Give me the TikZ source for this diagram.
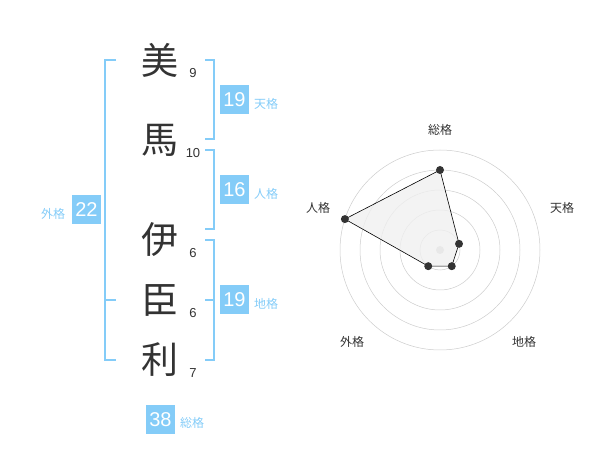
\documentclass[tikz,border=0pt]{standalone}
\usepackage{fontspec}
\setmainfont{Liberation Sans}
\newfontfamily\jp{Noto Sans CJK JP}
\definecolor{sky}{RGB}{132,204,248}
\definecolor{ink}{RGB}{51,51,51}
\begin{document}
\begin{tikzpicture}[x=1pt, y=-1pt,
    kanji/.style = {text=ink, inner sep=0pt, font=\jp\fontsize{37}{37}\selectfont},
    num/.style = {text=ink, inner sep=0pt, font=\fontsize{13}{13}\selectfont},
    score/.style = {fill=sky, text=white, minimum size=29pt, inner sep=0pt, font=\fontsize{20}{20}\selectfont},
    kaku/.style = {text=sky, inner sep=0pt, font=\jp\fontsize{12}{12}\selectfont},
    bracket/.style = {draw=sky, line width=1.6pt},
    ring/.style = {draw=black!20, line width=0.5pt},
    axis/.style = {text=ink, inner sep=0pt, font=\jp\fontsize{12}{12}\selectfont},
    dot/.style = {circle, fill=ink, inner sep=0pt, minimum size=8pt}]
    \useasboundingbox (0,0) rectangle (600,470);
    % name
    \node[kanji] (k1) at (160,60) {美};
    \node[kanji] (k2) at (160,140) {馬};
    \node[kanji] (k3) at (160,240) {伊};
    \node[kanji] (k4) at (160,300) {臣};
    \node[kanji] (k5) at (160,360) {利};
    \node[num] (n1) at (193,73) {9};
    \node[num] (n2) at (193,153) {10};
    \node[num] (n3) at (193,253) {6};
    \node[num] (n4) at (193,313) {6};
    \node[num] (n5) at (193,373) {7};
    % brackets
    \coordinate (ga) at (116,60);
    \coordinate (gb) at (105,60);
    \coordinate (gc) at (105,360);
    \coordinate (gd) at (116,360);
    \coordinate (ge) at (105,300);
    \coordinate (gf) at (116,300);
    \draw[bracket] (ga) -- (gb) -- (gc) -- (gd);
    \draw[bracket] (ge) -- (gf);
    \coordinate (ta) at (205,60);
    \coordinate (tb) at (214,60);
    \coordinate (tc) at (214,139);
    \coordinate (td) at (205,139);
    \draw[bracket] (ta) -- (tb) -- (tc) -- (td);
    \coordinate (ja) at (205,150);
    \coordinate (jb) at (214,150);
    \coordinate (jc) at (214,229);
    \coordinate (jd) at (205,229);
    \draw[bracket] (ja) -- (jb) -- (jc) -- (jd);
    \coordinate (ca) at (205,240);
    \coordinate (cb) at (214,240);
    \coordinate (cc) at (214,360);
    \coordinate (cd) at (205,360);
    \coordinate (ce) at (214,300);
    \coordinate (cf) at (205,300);
    \draw[bracket] (ca) -- (cb) -- (cc) -- (cd);
    \draw[bracket] (ce) -- (cf);
    % scores
    \node[score] (s1) at (234.5,100) {19};
    \node[kaku] (l1) at (266,104) {天格};
    \node[score] (s2) at (234.5,190) {16};
    \node[kaku] (l2) at (266,194) {人格};
    \node[score] (s3) at (234.5,300) {19};
    \node[kaku] (l3) at (266,304) {地格};
    \node[score] (s4) at (86.5,210) {22};
    \node[kaku] (l4) at (53,214) {外格};
    \node[score] (s5) at (160.5,419.5) {38};
    \node[kaku] (l5) at (192,423) {総格};
    % radar
    \begin{scope}[shift={(440,250)}, y=1pt]
        \foreach \r in {20,40,...,100}
            \draw[ring] (0,0) circle[radius=\r pt];
        \fill[black!20] (0,0) circle[radius=4pt];
        \coordinate (p1) at (90:80);
        \coordinate (p2) at (18:20);
        \coordinate (p3) at (-54:20);
        \coordinate (p4) at (-126:20);
        \coordinate (p5) at (162:100);
        \draw[fill=black!6, fill opacity=0.8, line width=0.6pt] (p1) -- (p2) -- (p3) -- (p4) -- (p5) -- cycle;
        \foreach \p in {p1,p2,p3,p4,p5}
            \node[dot] at (\p) {};
        \node[axis] (a1) at (0,120) {総格};
        \node[axis] (a2) at (122,42) {天格};
        \node[axis] (a3) at (84,-92) {地格};
        \node[axis] (a4) at (-88,-92) {外格};
        \node[axis] (a5) at (-122,42) {人格};
    \end{scope}
\end{tikzpicture}
\end{document}
